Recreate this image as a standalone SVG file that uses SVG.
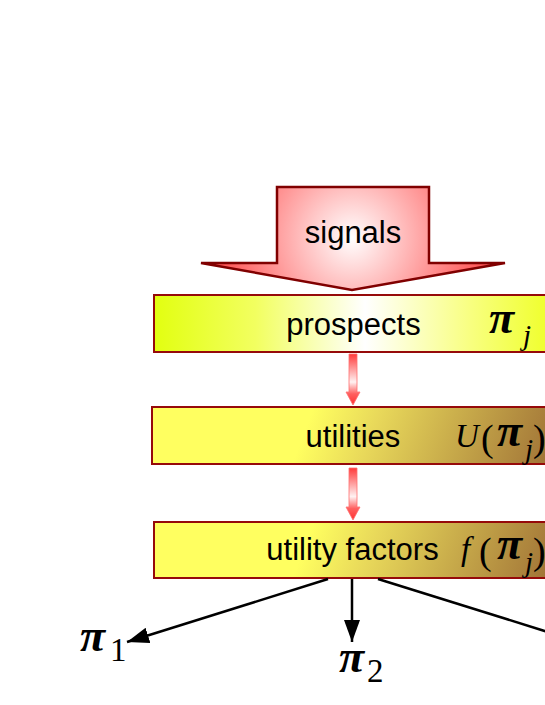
<svg xmlns="http://www.w3.org/2000/svg" width="545" height="705" viewBox="0 0 545 705">
<style>
.lbl{font-family:"Liberation Sans",Arial,sans-serif;font-size:31px;fill:#000;text-anchor:middle}
.pi{font-family:"Liberation Serif","Times New Roman",serif;font-style:italic;font-weight:bold;font-size:46px;fill:#000}
.m{font-family:"Liberation Serif","Times New Roman",serif;font-style:italic;font-size:33px;fill:#000}
.sub{font-family:"Liberation Serif","Times New Roman",serif;font-style:italic;font-size:29px;fill:#000}
.num{font-family:"Liberation Serif","Times New Roman",serif;font-size:33px;fill:#000}
.par{font-family:"Liberation Serif","Times New Roman",serif;font-size:38px;fill:#000}
.box{stroke:#960a0a;stroke-width:2}
.small{fill:url(#gSmall);stroke:#ff7070;stroke-width:0.8}
.conn{stroke:#000;stroke-width:2.5;fill:none;marker-end:url(#ah)}
</style>
<defs>
<radialGradient id="gSig" gradientUnits="userSpaceOnUse" cx="352" cy="238" r="130">
<stop offset="0" stop-color="#ffffff"/>
<stop offset="0.6" stop-color="#ff9a9a"/>
<stop offset="1" stop-color="#ff5a5a"/>
</radialGradient>
<linearGradient id="gPro" gradientUnits="userSpaceOnUse" x1="154" y1="0" x2="560" y2="0">
<stop offset="0" stop-color="#e2ff10"/>
<stop offset="0.25" stop-color="#f2ff60"/>
<stop offset="0.52" stop-color="#ffffff"/>
<stop offset="0.78" stop-color="#f8ff80"/>
<stop offset="1" stop-color="#eeff20"/>
</linearGradient>
<linearGradient id="gUt" gradientUnits="userSpaceOnUse" x1="320" y1="390" x2="560" y2="480">
<stop offset="0" stop-color="#ffff60"/>
<stop offset="0.25" stop-color="#e8d85a"/>
<stop offset="1" stop-color="#9a6a34"/>
</linearGradient>
<linearGradient id="gUf" gradientUnits="userSpaceOnUse" x1="320" y1="505" x2="560" y2="595">
<stop offset="0" stop-color="#ffff60"/>
<stop offset="0.25" stop-color="#e8d85a"/>
<stop offset="1" stop-color="#9a6a34"/>
</linearGradient>
<linearGradient id="gSmall" x1="0" y1="0" x2="0" y2="1">
<stop offset="0" stop-color="#ff3a3a"/>
<stop offset="0.55" stop-color="#fff2f2"/>
<stop offset="0.78" stop-color="#ff6060"/>
<stop offset="1" stop-color="#ff3030"/>
</linearGradient>
<marker id="ah" markerUnits="userSpaceOnUse" markerWidth="24" markerHeight="16" refX="22" refY="8" orient="auto">
<path d="M0,0 L22,8 L0,16 Z" fill="#000"/>
</marker>
</defs>

<g id="signals">
<path d="M277,187 L429,187 L429,263 L505,263 L352,290 L201,263 L277,263 Z" fill="url(#gSig)" stroke="#800000" stroke-width="2.5" stroke-linejoin="miter"/>
<text class="lbl" x="353" y="243">signals</text>
</g>

<g id="prospects">
<rect class="box" x="154" y="295" width="410" height="57" fill="url(#gPro)"/>
<text class="lbl" x="353.5" y="335">prospects</text>
<text class="pi" x="489" y="333">π</text>
<text class="sub" x="523" y="345">j</text>
</g>

<g id="utilities">
<rect class="box" x="152" y="407" width="412" height="57" fill="url(#gUt)"/>
<text class="lbl" x="353" y="447">utilities</text>
<text class="m" x="455" y="447">U</text>
<text class="par" x="481" y="451">(</text>
<text class="pi" x="497" y="446">π</text>
<text class="sub" x="525" y="459">j</text>
<text class="par" x="533" y="451">)</text>
</g>

<g id="utility-factors">
<rect class="box" x="154" y="522" width="410" height="56" fill="url(#gUf)"/>
<text class="lbl" x="352.5" y="560">utility factors</text>
<text class="m" x="461" y="560">f</text>
<text class="par" x="479" y="564">(</text>
<text class="pi" x="497" y="559">π</text>
<text class="sub" x="525" y="572">j</text>
<text class="par" x="533" y="564">)</text>
</g>

<g id="pi1">
<text class="pi" x="80" y="651">π</text>
<text class="num" x="110" y="661">1</text>
</g>
<g id="pi2">
<text class="pi" x="339" y="672">π</text>
<text class="num" x="367" y="682">2</text>
</g>

<g id="connectors">
<path class="small" d="M349,354 L357,354 L357,392 L360,392 L353,405 L346,392 L349,392 Z"/>
<path class="small" d="M349,468 L357,468 L357,507 L360,507 L353,520 L346,507 L349,507 Z"/>
<line class="conn" x1="328" y1="579" x2="127" y2="642"/>
<line class="conn" x1="352" y1="579" x2="352" y2="642"/>
<line class="conn" x1="378" y1="579" x2="580" y2="642"/>
</g>
</svg>
